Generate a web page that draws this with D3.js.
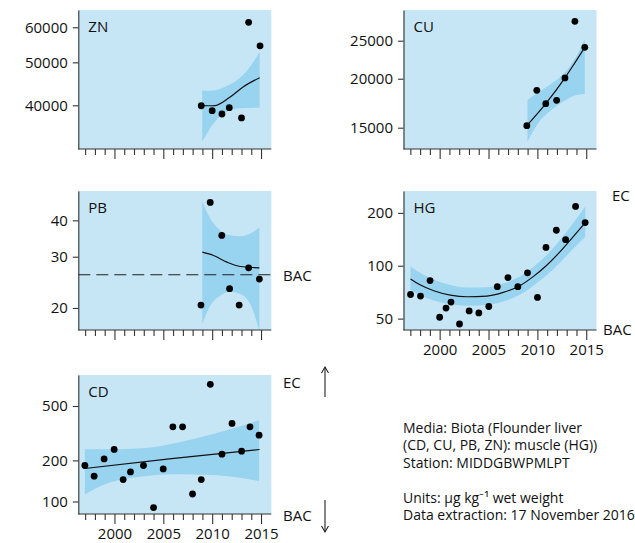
<!DOCTYPE html>
<html><head><meta charset="utf-8">
<script src="https://cdn.jsdelivr.net/npm/d3@7/dist/d3.min.js"></script>
<style>
body{margin:0;background:#fff}
svg{display:block}
text{font-family:"Open Sans",sans-serif;fill:#111}
</style>
</head><body>
<svg id="chart" width="635" height="543"></svg>
<script>
// ---------- data ----------
const xTickLabels = [2000, 2005, 2010, 2015];
const xFirstYear = 1997, xLastYear = 2015;

const znTicks = [40000, 50000, 60000];
const znYears = [2008.88, 2010.0, 2011.0, 2011.75, 2013.0, 2013.73, 2014.9];
const znValues = [39900, 38900, 38230, 39500, 37450, 61580, 54500];
const znFitYears = [2008.98, 2009.6, 2010.3, 2011.8, 2013.2, 2014.86];
const znFit = [39920, 39900, 39950, 41700, 44060, 46170];
const znBandYears = [2008.98, 2010.2, 2011.5, 2012.9, 2013.9, 2014.86];
const znUpper = [43150, 43220, 44200, 46280, 48960, 52840];
const znLower = [33120, 36550, 38680, 39380, 39450, 39500];

const cuTicks = [15000, 20000, 25000];
const cuYears = [2008.92, 2009.94, 2010.86, 2011.97, 2012.82, 2013.84, 2014.85];
const cuValues = [15180, 18680, 17270, 17620, 20090, 28010, 24050];
const cuFitYears = [2008.92, 2010.86, 2012.82, 2013.8, 2014.85];
const cuFit = [15180, 17270, 20090, 21890, 24050];
const cuBandYears = [2008.99, 2010.07, 2011.43, 2012.79, 2013.98, 2014.85];
const cuUpper = [17650, 18460, 19420, 20710, 22800, 25200];
const cuLower = [13820, 15390, 16640, 17580, 18180, 18280];

const pbTicks = [20, 30, 40];
const pbYears = [2008.85, 2009.8, 2010.98, 2011.78, 2012.76, 2013.73, 2014.83];
const pbValues = [20.46, 46.1, 35.5, 23.3, 20.46, 27.47, 25.13];
const pbFitYears = [2008.99, 2010.14, 2011.52, 2012.88, 2014.83];
const pbFit = [31.11, 30.30, 28.73, 27.76, 27.47];
const pbBandYears = [2008.99, 2009.8, 2010.8, 2011.86, 2012.88, 2013.9, 2014.83];
const pbUpper = [46.33, 40.6, 36.98, 35.53, 35.25, 36.02, 37.79];
const pbLower = [17.58, 20.34, 22.03, 22.75, 22.33, 20.62, 16.67];
const pbBAC = 26;

const hgTicks = [50, 100, 200];
const hgYears = [1997.02, 1998.04, 1999.02, 2000.0, 2000.65, 2001.16, 2002.03, 2003.02, 2004.01, 2005.03, 2005.9, 2006.99, 2008.0, 2008.99, 2010.01, 2010.88, 2011.94, 2012.89, 2013.91, 2014.89];
const hgValues = [68.6, 67.2, 82.3, 50.9, 57.4, 62.1, 46.6, 55.3, 53.9, 58.6, 76.0, 85.6, 76.0, 91.1, 66.0, 127.2, 159.2, 140.8, 217.6, 176.2];
const hgFitYears = [1997.02, 1998.04, 1999.39, 2001.09, 2002.79, 2004.82, 2006.51, 2008.21, 2009.57, 2010.93, 2012.28, 2013.63, 2014.9];
const hgFit = [84.1, 77.7, 72.1, 68.1, 66.6, 67.2, 70.5, 77.0, 86.7, 100.3, 119.5, 145.7, 176.2];
const hgUpper = [99.5, 90.8, 83.4, 77.6, 75.2, 75.5, 79.2, 86.8, 98.2, 114.6, 139.0, 173.8, 217.6];
const hgLower = [72.8, 67.8, 63.4, 60.3, 59.2, 59.7, 62.6, 68.3, 76.6, 88.2, 103.8, 124.4, 146.4];

const cdTicks = [100, 200, 500];
const cdYears = [1996.97, 1997.92, 1998.94, 1999.97, 2000.89, 2001.64, 2002.97, 2004.0, 2004.99, 2005.98, 2006.97, 2007.99, 2008.88, 2009.81, 2011.0, 2012.03, 2013.01, 2013.87, 2014.8];
const cdValues = [183.4, 153.1, 205.0, 240.3, 144.8, 164.6, 183.4, 90.2, 173.2, 352, 352, 113.5, 144.8, 720.5, 222.0, 372.8, 233.5, 352, 305.9];
const cdFitYears = [1996.97, 2005.85, 2014.85];
const cdFit = [174.3, 206, 240.3];
const cdBandYears = [1996.97, 1998.5, 2000.4, 2003.1, 2005.8, 2008.2, 2010.6, 2012.7, 2014.8];
const cdUpper = [241.5, 241.5, 241.5, 246, 264, 288, 318, 352, 394];
const cdLower = [112.4, 129, 143, 153, 158, 157.5, 155.7, 150, 140.7];

const infoLines = ["Media: Biota (Flounder liver", "(CD, CU, PB, ZN): muscle (HG))", "Station: MIDDGBWPMLPT", "", "Units: µg kg\u207B\u00B9 wet weight", "Data extraction: 17 November 2016"];

// ---------- layout ----------
const W = 193, H = 139;
const colX = [78.3, 403.5];
const rowY = [10, 191, 375];
const xDomain = [1996.3, 2016.05];
const bgColor = "#c6e6f6";
const bandColor = "#98d3ef";
const axisColor = "#333";

const panels = [
  {name: "ZN", col: 0, row: 0, yDom: [31870, 65640], ticks: znTicks, years: znYears, values: znValues,
   fitYears: znFitYears, fit: znFit, bandYears: znBandYears, upper: znUpper, lower: znLower, xLabels: false},
  {name: "CU", col: 1, row: 0, yDom: [13237, 29940], ticks: cuTicks, years: cuYears, values: cuValues,
   fitYears: cuFitYears, fit: cuFit, bandYears: cuBandYears, upper: cuUpper, lower: cuLower, xLabels: false},
  {name: "PB", col: 0, row: 1, yDom: [16.8, 50.45], ticks: pbTicks, years: pbYears, values: pbValues,
   fitYears: pbFitYears, fit: pbFit, bandYears: pbBandYears, upper: pbUpper, lower: pbLower, xLabels: false, bac: pbBAC},
  {name: "HG", col: 1, row: 1, yDom: [43.07, 266.4], ticks: hgTicks, years: hgYears, values: hgValues,
   fitYears: hgFitYears, fit: hgFit, bandYears: hgFitYears, upper: hgUpper, lower: hgLower, xLabels: true},
  {name: "CD", col: 0, row: 2, yDom: [81.0, 843], ticks: cdTicks, years: cdYears, values: cdValues,
   fitYears: cdFitYears, fit: cdFit, bandYears: cdBandYears, upper: cdUpper, lower: cdLower, xLabels: true}
];

const svg = d3.select("#chart");
const defs = svg.append("defs");

panels.forEach((p, i) => {
  const ox = colX[p.col], oy = rowY[p.row];
  const g = svg.append("g").attr("transform", `translate(${ox},${oy})`);
  const x = d3.scaleLinear().domain(xDomain).range([0, W]);
  const y = d3.scaleLog().domain(p.yDom).range([H, 0]);

  defs.append("clipPath").attr("id", "clip" + i)
    .append("rect").attr("width", W).attr("height", H);

  g.append("rect").attr("width", W).attr("height", H).attr("fill", bgColor);

  const plot = g.append("g").attr("clip-path", `url(#clip${i})`);
  const band = p.bandYears.map((yr, k) => ({yr, lo: p.lower[k], hi: p.upper[k]}));
  plot.append("path").datum(band)
    .attr("fill", bandColor)
    .attr("d", d3.area().curve(d3.curveMonotoneX).x(d => x(d.yr)).y0(d => y(d.lo)).y1(d => y(d.hi)));

  if (p.bac !== undefined) {
    g.append("line").attr("x1", 0).attr("x2", W + 2)
      .attr("y1", y(p.bac)).attr("y2", y(p.bac))
      .attr("stroke", "#222").attr("stroke-width", 1.1).attr("stroke-dasharray", "12,6");
  }

  const fit = p.fitYears.map((yr, k) => ({yr, v: p.fit[k]}));
  plot.append("path").datum(fit)
    .attr("fill", "none").attr("stroke", "#111").attr("stroke-width", 1.2)
    .attr("d", d3.line().curve(d3.curveMonotoneX).x(d => x(d.yr)).y(d => y(d.v)));

  g.selectAll("circle.pt").data(p.years.map((yr, k) => ({yr, v: p.values[k]})))
    .enter().append("circle").attr("class", "pt")
    .attr("cx", d => x(d.yr)).attr("cy", d => y(d.v)).attr("r", 3.4).attr("fill", "#000");

  // y axis
  const ya = g.append("g").call(d3.axisLeft(y).tickValues(p.ticks).tickFormat(d3.format("d"))
      .tickSize(5.5).tickSizeOuter(0).tickPadding(5));
  ya.selectAll("path,line").attr("stroke", axisColor).attr("stroke-width", 1.1);
  ya.selectAll("text").attr("font-size", 15).attr("font-family", '"Open Sans", sans-serif').attr("fill", "#111");

  // x axis
  const allYears = d3.range(xFirstYear, xLastYear + 1);
  const xa = g.append("g").attr("transform", `translate(0,${H})`)
    .call(d3.axisBottom(x).tickValues(allYears).tickSize(6).tickSizeOuter(0)
      .tickFormat(d => (p.xLabels && xTickLabels.includes(d)) ? String(d) : ""));
  xa.select(".domain").attr("d", `M0,0H${W}`);
  xa.selectAll("path,line").attr("stroke", axisColor).attr("stroke-width", 1.1);
  xa.selectAll(".tick line").attr("y2", d => xTickLabels.includes(d) ? 10 : 6);
  xa.selectAll("text").attr("font-size", 15).attr("y", 14.5).attr("font-family", '"Open Sans", sans-serif').attr("fill", "#111");

  g.append("text").attr("x", 10).attr("y", 22).attr("font-size", 15).text(p.name);
});

// threshold labels
svg.append("text").attr("x", 283).attr("y", 280.5).attr("font-size", 15).text("BAC");
svg.append("text").attr("x", 612).attr("y", 201).attr("font-size", 15).text("EC");
svg.append("text").attr("x", 603).attr("y", 335).attr("font-size", 15).text("BAC");
svg.append("text").attr("x", 283).attr("y", 388).attr("font-size", 15).text("EC");
svg.append("text").attr("x", 283).attr("y", 521).attr("font-size", 15).text("BAC");

// arrows
const arrow = (xa, y1, y2) => {
  const dir = y2 < y1 ? 1 : -1;
  svg.append("line").attr("x1", xa).attr("x2", xa).attr("y1", y1).attr("y2", y2)
    .attr("stroke", "#222").attr("stroke-width", 1.1);
  svg.append("path").attr("d", `M${xa - 3.5},${y2 + dir * 6}L${xa},${y2}L${xa + 3.5},${y2 + dir * 6}`)
    .attr("fill", "none").attr("stroke", "#222").attr("stroke-width", 1.1);
};
arrow(325, 397, 367);
arrow(325, 500, 532);

// info text
svg.append("g").selectAll("text").data(infoLines).enter().append("text")
  .attr("x", 403).attr("y", (d, i) => 433 + i * 17.4)
  .attr("font-size", 14).text(d => d);
</script>
</body></html>
